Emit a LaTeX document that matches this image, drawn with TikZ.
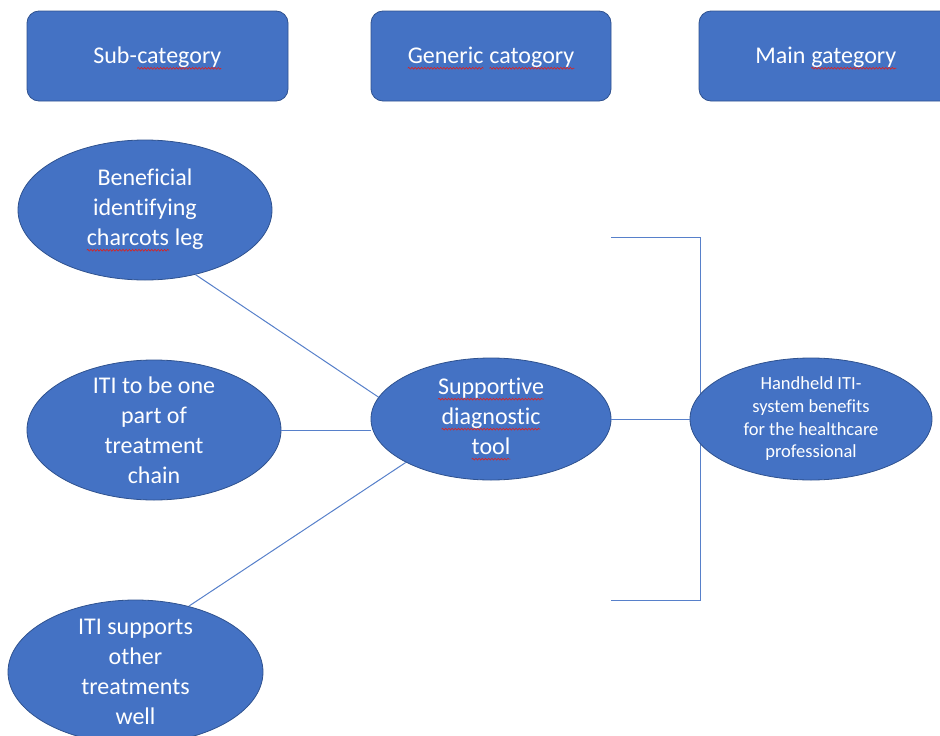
\documentclass[tikz,border=0pt]{standalone}
\usepackage{fontspec}
\setmainfont{Carlito}[Ligatures=NoCommon]
\usetikzlibrary{positioning, shapes.geometric, decorations.pathmorphing}
\definecolor{Fill}{HTML}{4472C4}
\definecolor{Edge}{HTML}{2F528F}
\definecolor{Squig}{HTML}{E0201B}
\tikzset{
    catbox/.style={rectangle, rounded corners=12pt, fill=Fill, draw=Edge, line width=0.8pt, text=white, font=\fontsize{24}{30}\selectfont, minimum height=90pt, inner sep=0pt},
    bubble/.style={ellipse, fill=Fill, draw=Edge, line width=0.8pt, inner sep=0pt},
    bubbletext/.style={text=white, align=center, inner sep=0pt, font=\fontsize{24}{30}\selectfont},
    smalltext/.style={text=white, align=center, inner sep=0pt, font=\fontsize{18.5}{22.7}\selectfont},
    link/.style={draw=Fill!90!white, line width=1pt},
    wavy/.style={draw=Squig, line width=0.6pt, sharp corners, decorate, decoration={snake, amplitude=0.9pt, segment length=3.2pt}},
    plainword/.style={rectangle, draw=none, fill=none, sharp corners, inner sep=0pt, outer sep=0pt, minimum width=0pt, minimum height=0pt},
}
\newcommand{\misspelt}[1]{\tikz[baseline=(w.base)]{\node[plainword] (w) {#1}; \draw[wavy] ([yshift=-5pt]w.base west) -- ([yshift=-5pt]w.base east);}}

\begin{document}
\begin{tikzpicture}[x=1pt, y=-1pt]
    \useasboundingbox (0,0) rectangle (940,736);
    \clip (0,0) rectangle (940,736);

    % Intestazioni
    \node[catbox, minimum width=261pt, text depth=2pt] (sub) at (157.5,56) {Sub-\misspelt{category}};
    \node[catbox, minimum width=240pt, text depth=2pt] (gen) at (491,56) {\misspelt{Generic} \misspelt{catogory}};
    \node[catbox, minimum width=254pt, text depth=2pt] (main) at (826,56) {Main \misspelt{gategory}};

    % Sottocategorie
    \node[bubble, minimum width=254pt, minimum height=140pt] (e1) at (145,210) {};
    \node[bubbletext] (e1t) at (e1) {Beneficial\\identifying\\\misspelt{charcots} leg};
    \node[bubble, minimum width=254pt, minimum height=140pt] (e2) at (154,430) {};
    \node[bubbletext] (e2t) at (e2) {ITI to be one\\part of\\treatment\\chain};
    \node[bubble, minimum width=255pt, minimum height=144pt] (e5) at (135.5,672) {};
    \node[bubbletext] (e5t) at (e5) {ITI supports\\other\\treatments\\well};

    % Categoria generica
    \node[bubble, minimum width=240pt, minimum height=122pt] (e3) at (491,419) {};
    \node[bubbletext] (e3t) at (e3) {\misspelt{Supportive}\\\misspelt{diagnostic}\\\misspelt{tool}};

    % Parentesi verso la categoria principale
    \coordinate (brtop) at (e3.east |- 0,237);
    \coordinate (brbot) at (e3.east |- 0,600);
    \draw[link] (brtop) -- ++(89,0) |- (brbot);

    % Categoria principale
    \node[bubble, minimum width=242pt, minimum height=122pt] (e4) at (811,419) {};
    \node[smalltext] (e4t) at (e4) {Handheld ITI-\\system benefits\\for the healthcare\\professional};

    % Collegamenti
    \draw[link] (e1.-52) -- (e3.169);
    \draw[link] (e2.east) -- (e2.east -| e3.west);
    \draw[link] (e5.51) -- (e3.207);
    \draw[link] (e3.east) -- (e4.west);
\end{tikzpicture}
\end{document}
